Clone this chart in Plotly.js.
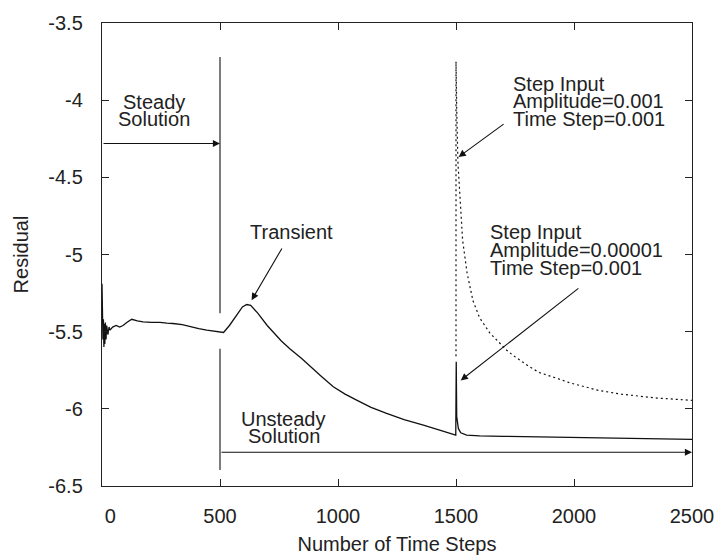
<!DOCTYPE html>
<html>
<head>
<meta charset="utf-8">
<script src="https://cdn.plot.ly/plotly-3.0.1.min.js"></script>
<style>html,body{margin:0;padding:0;background:#fff;}</style>
</head>
<body>
<div id="chart" style="width:714px;height:556px;"></div>
<script>
// Residual history, amplitude 0.00001 step input (solid)
const stepsA = [0, 2, 4, 6, 8, 10, 12, 14, 17, 20, 25, 30, 34, 45, 60, 75, 89, 105, 126, 150, 174, 210, 246, 275, 301, 340, 373, 410, 444, 475, 500, 515, 540, 570, 595, 613, 630, 660, 700, 760, 797, 846, 881, 930, 980, 1030, 1079, 1140, 1206, 1280, 1362, 1430, 1480, 1499, 1501, 1503, 1510, 1520, 1545, 1600, 1700, 1800, 1941, 2100, 2300, 2500];
const residA = [-5.19, -5.35, -5.55, -5.42, -5.60, -5.45, -5.58, -5.44, -5.55, -5.46, -5.52, -5.47, -5.49, -5.47, -5.46, -5.47, -5.46, -5.44, -5.42, -5.43, -5.437, -5.44, -5.44, -5.445, -5.447, -5.455, -5.469, -5.48, -5.49, -5.495, -5.50, -5.505, -5.46, -5.39, -5.34, -5.324, -5.33, -5.38, -5.46, -5.56, -5.612, -5.674, -5.72, -5.79, -5.857, -5.905, -5.944, -5.99, -6.03, -6.07, -6.106, -6.138, -6.162, -6.17, -5.695, -6.05, -6.127, -6.155, -6.17, -6.175, -6.178, -6.181, -6.185, -6.189, -6.194, -6.198];

// Residual history, amplitude 0.001 step input (dotted)
const stepsB = [1500, 1500, 1503, 1508, 1517, 1528, 1547, 1572, 1600, 1644, 1715, 1743, 1814, 1853, 1933, 1983, 2103, 2200, 2350, 2500];
const residB = [-5.66, -3.75, -4.05, -4.40, -4.648, -4.907, -5.121, -5.30, -5.41, -5.51, -5.62, -5.655, -5.73, -5.765, -5.805, -5.832, -5.88, -5.905, -5.93, -5.945];

const xTickVals = [0, 500, 1000, 1500, 2000, 2500];
const xTickText = ['\u00a0\u00a0\u00a00', '500', '1000', '1500', '2000', '2500'];
const yTickVals = [-3.5, -4, -4.5, -5, -5.5, -6, -6.5];
const yTickText = ['-3.5', '-4', '-4.5', '-5', '-5.5', '-6', '-6.5'];

const FONT = 'Liberation Sans, Arial, Helvetica, sans-serif';
const TXT = '#222';

const traces = [
  {x: stepsA, y: residA, type: 'scatter', mode: 'lines',
   line: {color: '#111', width: 1.3}, hoverinfo: 'skip', showlegend: false},
  {x: stepsB, y: residB, type: 'scatter', mode: 'lines',
   line: {color: '#111', width: 1.2, dash: '2px,3px'}, hoverinfo: 'skip', showlegend: false}
];

function label(text, x, y, anchor) {
  return {x: x, y: y, xref: 'x', yref: 'y', text: text, showarrow: false,
          xanchor: anchor || 'center', yanchor: 'middle',
          font: {family: FONT, size: 20, color: TXT}};
}
function arrow(x, y, ax, ay) {
  return {x: x, y: y, ax: ax, ay: ay, xref: 'x', yref: 'y', axref: 'x', ayref: 'y',
          text: '', showarrow: true, arrowhead: 2, arrowsize: 1.3, arrowwidth: 1.1,
          arrowcolor: '#111', standoff: 0, startstandoff: 0};
}

const annotations = [
  label('Steady', 220, -4.01),
  label('Solution', 220, -4.12),
  arrow(500, -4.281, 0, -4.281),
  label('Unsteady', 770, -6.065),
  label('Solution', 770, -6.175),
  arrow(2500, -6.281, 500, -6.281),
  label('Transient', 804, -4.857),
  arrow(634, -5.296, 766, -4.951),
  label('Step Input', 1732, -3.892, 'left'),
  label('Amplitude=0.001', 1732, -4.005, 'left'),
  label('Time Step=0.001', 1732, -4.119, 'left'),
  arrow(1511, -4.368, 1708, -4.148),
  label('Step Input', 1637, -4.856, 'left'),
  label('Amplitude=0.00001', 1637, -4.972, 'left'),
  label('Time Step=0.001', 1637, -5.089, 'left'),
  arrow(1520, -5.816, 2025, -5.212)
];

const shapes = [
  {type: 'line', xref: 'x', yref: 'y', x0: 500, x1: 500, y0: -3.72, y1: -5.38, line: {color: '#111', width: 1.1}},
  {type: 'line', xref: 'x', yref: 'y', x0: 500, x1: 500, y0: -5.61, y1: -6.397, line: {color: '#111', width: 1.1}}
];

const axisCommon = {
  showline: true, linecolor: '#222', linewidth: 1.2, mirror: 'ticks',
  ticks: 'inside', ticklen: 7, tickwidth: 1, tickcolor: '#222',
  showgrid: false, zeroline: false, tickmode: 'array',
  ticklabeloverflow: 'allow',
  tickfont: {family: FONT, size: 20, color: TXT}
};

const layout = {
  width: 714, height: 556,
  margin: {l: 102, r: 22, t: 23, b: 70},
  paper_bgcolor: '#fff', plot_bgcolor: '#fff',
  showlegend: false,
  xaxis: Object.assign({}, axisCommon, {
    range: [0, 2500], tickvals: xTickVals, ticktext: xTickText,
    ticklabelstandoff: 12,
    title: {text: 'Number of Time Steps', font: {family: FONT, size: 20, color: TXT}, standoff: 10}
  }),
  yaxis: Object.assign({}, axisCommon, {
    range: [-6.5, -3.5], tickvals: yTickVals, ticktext: yTickText,
    ticklabelstandoff: 14,
    title: {text: 'Residual', font: {family: FONT, size: 20, color: TXT}, standoff: 14}
  }),
  annotations: annotations,
  shapes: shapes
};

Plotly.newPlot('chart', traces, layout, {displayModeBar: false, staticPlot: true});
</script>
</body>
</html>
